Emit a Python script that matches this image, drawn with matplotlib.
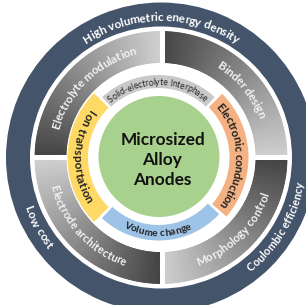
import numpy as np
import matplotlib.pyplot as plt
from matplotlib.patches import Wedge, Circle, Rectangle
from matplotlib.font_manager import FontProperties

FONT = "Lato"
W, H = 306, 305

center_lines = ["Microsized", "Alloy", "Anodes"]
outer_labels = ["High volumetric energy density", "Low cost", "Coulombic efficiency"]
quad_labels = ["Binder design", "Electrolyte modulation", "Electrode architecture", "Morphology control"]
inner_labels = ["Solid-electrolyte Interphase", "Electronic conduction", "Volume change", "Ion transportation"]
inner_colors = ["#c9c9c9", "#f4b183", "#9dc3e6", "#ffd966"]
navy = "#44546a"
green = "#a9d18e"

fig = plt.figure(figsize=(3.06, 3.05), dpi=100)
ax = fig.add_axes([0, 0, 1, 1])
ax.set_xlim(0, W)
ax.set_ylim(0, H)
ax.axis("off")
renderer = fig.canvas.get_renderer()


def P(x, y):
    # pixel position (y down) -> data position (y up)
    return x, H - y


def tw(s, fp):
    w, _, _ = renderer.get_text_width_height_descent(s + "|", fp, ismath=False)
    w0, _, _ = renderer.get_text_width_height_descent("|", fp, ismath=False)
    return w - w0


def arc_text(s, c, r, mid, span, top, color, weight="normal"):
    # fit the string into `span` degrees of arc
    fp10 = FontProperties(family=FONT, size=10, weight=weight)
    size = 10 * np.radians(span) * r / tw(s, fp10)
    fp = FontProperties(family=FONT, size=size, weight=weight)
    total = tw(s, fp)
    for i, ch in enumerate(s):
        off = tw(s[:i], fp) + tw(ch, fp) / 2 - total / 2
        if top:
            ang = mid - np.degrees(off / r)
            rot = ang - 90
        else:
            ang = mid + np.degrees(off / r)
            rot = ang + 90
        x = c[0] + r * np.cos(np.radians(ang))
        y = c[1] + r * np.sin(np.radians(ang))
        ax.text(x, y, ch, fontproperties=fp, color=color, rotation=rot,
                rotation_mode="anchor", ha="center", va="center_baseline")


# outer navy ring
c0 = P(161, 157.5)
ax.add_patch(Wedge(c0, 155, 0, 360, width=24, color=navy, lw=0))

# gradient quadrants (clockwise dark -> light)
dark = np.array([0.26, 0.26, 0.26])
light = np.array([0.82, 0.82, 0.82])
for a in [0, 90, 180, 270]:
    steps = np.linspace(a, a + 90, 91)
    for t1, t2 in zip(steps[:-1], steps[1:]):
        t = ((t1 + t2) / 2 - a) / 90
        col = light + (dark - light) * t
        ax.add_patch(Wedge(c0, 126, t1, t2, width=31, fc=col, ec=col, lw=0.6))

# white cross between quadrants
ax.add_patch(Rectangle(P(160, 157.5 + 129), 4.5, 258, color="white", lw=0))
ax.add_patch(Rectangle(P(161 - 129, 160), 258, 5, color="white", lw=0))

# inner ring segments: SEI, electronic, volume, ion
c1 = P(158.5, 157.5)
seg_angles = [(47, 133), (-41, 45), (227, 317), (135, 225)]
seg_radii = [(69.5, 82.5), (71, 90), (67.5, 83), (70.5, 91)]
for (t1, t2), (ri, ro), col in zip(seg_angles, seg_radii, inner_colors):
    ax.add_patch(Wedge(c1, ro, t1, t2, width=ro - ri, color=col, lw=0))

# centre disc
ax.add_patch(Circle(P(159, 156.5), 60.5, color=green, lw=0))
for word, yb in zip(center_lines, [145, 165, 185]):
    ax.text(*P(162.5, yb), word, family=FONT, weight="bold", size=12.4,
            color="#111111", ha="center", va="baseline")

# labels on the navy ring
arc_text(outer_labels[0], c0, 141, 90, 67, True, "white", "bold")
arc_text(outer_labels[1], c0, 141, 209.5, 19, False, "white", "bold")
arc_text(outer_labels[2], c0, 141, -31, 42, False, "white", "bold")

# labels on the quadrants
arc_text(quad_labels[0], c0, 110, 40, 37, True, "#f2f2f2", "bold")
arc_text(quad_labels[1], c0, 110, 134, 62, True, "#f2f2f2", "bold")
arc_text(quad_labels[2], c0, 110, 223, 57, False, "#f2f2f2", "bold")
arc_text(quad_labels[3], c0, 110, -45, 53, False, "#f2f2f2", "bold")

# labels on the inner ring
arc_text(inner_labels[0], c1, 76, 91, 80, True, "#222222")
arc_text(inner_labels[1], c1, 80.5, 1.5, 80, True, "#222222", "bold")
arc_text(inner_labels[2], c1, 75, 269, 53, False, "#222222", "bold")
arc_text(inner_labels[3], c1, 80.5, 179, 68, False, "#222222", "bold")

fig.savefig("out.png", dpi=100)
